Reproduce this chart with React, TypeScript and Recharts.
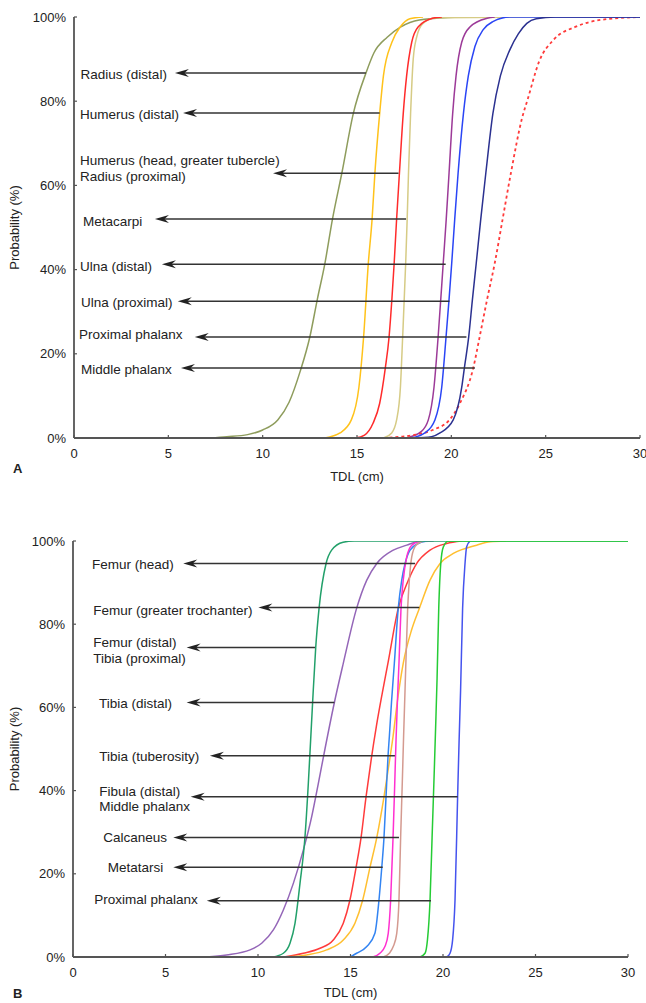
import React from 'react';
import { LineChart, Line, XAxis, YAxis, ReferenceLine, ReferenceDot } from 'recharts';

type Pt = [number, number];

const xTicks = [0, 5, 10, 15, 20, 25, 30];
const yTicks = [0, 20, 40, 60, 80, 100];

// ---------- Panel A (fore limb) curves: [TDL cm, probability %] ----------
const aRadiusDistal: Pt[] = [[7.2,0],[8.1,0.3],[9.2,0.8],[10.0,1.9],[10.8,4.3],[11.4,8.5],[12.0,16],[12.5,24],[12.9,33],[13.3,41.5],[13.7,52],[14.2,63],[14.8,77],[15.5,87],[15.9,91.5],[16.6,95.2],[17.3,97.6],[18.3,99.3],[20.5,100]];
const aHumerusDistal: Pt[] = [[13.3,0],[14.1,1.2],[14.7,4.3],[15.1,12],[15.35,24],[15.6,41.5],[15.8,52],[15.95,63],[16.2,77],[16.4,86],[16.85,94],[17.3,97.7],[17.8,99.6],[18.5,100]];
const aHumerusHead: Pt[] = [[14.9,0],[15.4,0.7],[15.85,3.5],[16.2,8.2],[16.5,16.6],[16.7,24],[16.85,33],[16.97,41.5],[17.1,52],[17.25,63],[17.45,77],[17.63,86],[17.9,94],[18.25,97.7],[19.0,99.7],[19.5,100]];
const aMetacarpi: Pt[] = [[16.4,0],[16.84,1.2],[17.1,4.3],[17.3,12],[17.42,24],[17.58,41.5],[17.66,52],[17.73,63],[17.84,77],[17.98,90],[18.16,95.2],[18.5,98.5],[19.2,99.8],[25.2,100]];
const aUlnaDistal: Pt[] = [[17.6,0],[18.4,1.5],[18.78,4.3],[19.08,12],[19.3,24],[19.57,41.5],[19.73,52],[19.88,63],[20.07,77],[20.25,86],[20.55,94],[21.0,97.7],[21.9,99.7],[22.3,100]];
const aUlnaProximal: Pt[] = [[17.9,0],[18.6,1.2],[19.13,4.3],[19.49,12],[19.72,24],[19.88,33],[20.02,41.5],[20.18,52],[20.36,63],[20.64,77],[20.9,86],[21.25,93],[21.69,97],[22.2,98.9],[23.1,100],[30,100]];
const aProximalPhalanx: Pt[] = [[18.0,0],[18.95,0.3],[19.4,1.2],[20.1,4.3],[20.55,12],[20.69,16.6],[20.92,24],[21.12,33],[21.32,41.5],[21.56,52],[21.83,63],[22.2,77],[22.6,86],[23.1,92.2],[23.55,96],[24.0,98.5],[24.5,99.6],[25.5,100],[30,100]];
const aMiddlePhalanx: Pt[] = [[16.4,0],[17.3,0.3],[18.0,0.7],[19.0,1.9],[19.9,4.3],[20.45,8.2],[21.16,16.6],[21.5,24],[21.9,33],[22.3,41.5],[22.72,52],[23.16,63],[23.75,76],[24.05,80.5],[24.66,89.5],[25.4,94.5],[26.6,97.7],[27.9,99.3],[30,100]];

// ---------- Panel B (hind limb) curves ----------
const bFemurDistal: Pt[] = [[10.8,0],[11.37,0.9],[11.73,3.3],[12.0,8.1],[12.27,17.7],[12.54,28.9],[12.72,41.7],[12.82,50],[12.95,61],[13.12,74.4],[13.3,83.8],[13.68,94.6],[13.98,97.8],[14.6,99.7],[15.2,100],[30,100]];
const bTibiaDistal: Pt[] = [[7.2,0],[8.3,0.5],[9.57,1.7],[10.2,3.3],[10.83,6.5],[11.37,11.3],[11.91,17.7],[12.45,25.7],[12.9,33.7],[13.26,41.7],[13.62,50],[14.12,61],[14.61,70.6],[15.33,83.8],[15.88,90.6],[16.42,94.6],[17.31,97.8],[18.04,99],[18.6,99.8],[19.5,100]];
const bFemurHead: Pt[] = [[11.4,0],[12.45,0.9],[13.35,2.1],[14.07,4.1],[14.61,8.1],[14.97,13.7],[15.3,21.5],[15.57,28.7],[15.84,38.5],[16.12,47.5],[16.4,55.5],[16.72,63.5],[17.04,71],[17.58,83.8],[18.13,90.6],[18.58,94.6],[19.3,97.8],[20.2,99.4],[21.0,100]];
const bFemurTrochanter: Pt[] = [[11.5,0],[12.63,0.5],[13.71,1.7],[14.61,4.1],[15.24,8.1],[15.66,13.7],[16.05,21.5],[16.42,28.7],[16.81,38.5],[17.12,47.5],[17.3,53],[17.52,61],[17.85,70.6],[18.3,78.6],[18.72,83.8],[19.3,90.6],[19.84,94.6],[20.56,97],[21.82,99],[22.54,99.8],[23.4,100]];
const bMetatarsi: Pt[] = [[15.0,0],[15.33,0.9],[15.88,2.5],[16.32,5.7],[16.54,13.7],[16.69,21.5],[16.81,28.7],[16.92,38.5],[17.03,48.4],[17.1,53],[17.22,61.5],[17.37,70.6],[17.58,83.8],[17.77,90.6],[17.95,94.6],[18.22,97.8],[18.66,99.4],[19.1,100]];
const bTibiaTuberosity: Pt[] = [[16.2,0],[16.59,0.9],[16.86,2.5],[17.04,5.7],[17.17,13.7],[17.3,28.7],[17.38,40],[17.46,52],[17.54,62],[17.62,70.6],[17.73,83.8],[17.85,90.6],[18.04,96.2],[18.31,99],[18.76,100]];
const bCalcaneus: Pt[] = [[16.77,0],[17.1,0.9],[17.31,2.5],[17.5,5.7],[17.62,13.7],[17.71,28.7],[17.8,42],[17.87,53],[17.94,63],[18.09,83.8],[18.18,90.6],[18.31,96.2],[18.54,99],[18.94,100]];
const bProximalPhalanx: Pt[] = [[18.76,0],[19.03,0.9],[19.16,4.1],[19.3,13.7],[19.41,28.7],[19.53,45],[19.6,55],[19.68,67],[19.77,83.8],[19.88,94.6],[20.02,98.6],[20.3,100],[30,100]];
const bMiddlePhalanx: Pt[] = [[20.2,0],[20.38,0.9],[20.52,4.1],[20.65,13.7],[20.79,38.5],[20.87,52],[20.95,64],[21.06,83.8],[21.19,94.6],[21.28,98.6],[21.46,100]];

// ---------- Annotations (data units) ----------
const aLabels = ['Radius (distal)', 'Humerus (distal)', 'Humerus (head, greater tubercle)\nRadius (proximal)', 'Metacarpi', 'Ulna (distal)', 'Ulna (proximal)', 'Proximal phalanx', 'Middle phalanx'];
const aLabelX = [0.35, 0.32, 0.32, 0.48, 0.32, 0.37, 0.26, 0.37];
const aLabelY = [86.5, 77.0, 66.0, 51.5, 40.9, 32.2, 24.7, 16.4];
const aArrowY = [86.7, 77.2, 62.9, 52.0, 41.3, 32.5, 24.0, 16.6];
const aArrowTip = [5.35, 5.78, 10.55, 4.29, 4.66, 5.5, 6.4, 5.67];
const aArrowEnd = [15.47, 16.2, 17.2, 17.6, 19.7, 19.9, 20.8, 21.25];

const bLabels = ['Femur (head)', 'Femur (greater trochanter)', 'Femur (distal)\nTibia (proximal)', 'Tibia (distal)', 'Tibia (tuberosity)', 'Fibula (distal)\nMiddle phalanx', 'Calcaneus', 'Metatarsi', 'Proximal phalanx'];
const bLabelX = [1.03, 1.1, 1.1, 1.4, 1.42, 1.42, 1.64, 1.88, 1.15];
const bLabelY = [94.4, 83.4, 75.6, 61.1, 48.3, 39.9, 28.7, 21.5, 13.9];
const bArrowY = [94.6, 84.0, 74.4, 61.2, 48.4, 38.5, 28.7, 21.6, 13.5];
const bArrowTip = [5.96, 10.02, 6.14, 6.14, 7.4, 6.36, 5.42, 5.42, 7.23];
const bArrowEnd = [18.49, 18.72, 13.08, 14.13, 17.4, 20.79, 17.62, 16.74, 19.35];

const toRows = (pts: Pt[]) => pts.map(([x, y]) => ({ x, y }));

interface SeriesDef { name: string; pts: Pt[]; color: string; dash?: string; width?: number }

const seriesA: SeriesDef[] = [
  { name: 'Radius (distal)', pts: aRadiusDistal, color: '#8E9C5C' },
  { name: 'Humerus (distal)', pts: aHumerusDistal, color: '#FFC21A' },
  { name: 'Metacarpi', pts: aMetacarpi, color: '#D6CB85' },
  { name: 'Humerus (head)', pts: aHumerusHead, color: '#FF2B2B' },
  { name: 'Ulna (distal)', pts: aUlnaDistal, color: '#9C3A98' },
  { name: 'Middle phalanx', pts: aMiddlePhalanx, color: '#FF3A3A', dash: '3 3', width: 1.8 },
  { name: 'Ulna (proximal)', pts: aUlnaProximal, color: '#2A45F5' },
  { name: 'Proximal phalanx', pts: aProximalPhalanx, color: '#2B3190' },
];

const seriesB: SeriesDef[] = [
  { name: 'Tibia (distal)', pts: bTibiaDistal, color: '#9466B8' },
  { name: 'Femur (head)', pts: bFemurHead, color: '#FF3B3B' },
  { name: 'Femur (greater trochanter)', pts: bFemurTrochanter, color: '#FFBF30' },
  { name: 'Metatarsi', pts: bMetatarsi, color: '#3384F2' },
  { name: 'Tibia (tuberosity)', pts: bTibiaTuberosity, color: '#FF30D0' },
  { name: 'Calcaneus', pts: bCalcaneus, color: '#D49A90' },
  { name: 'Fibula (distal)', pts: bMiddlePhalanx, color: '#4553EE' },
  { name: 'Femur (distal)', pts: bFemurDistal, color: '#22A06A' },
  { name: 'Proximal phalanx', pts: bProximalPhalanx, color: '#25CC35' },
];

const FONT = '"Liberation Sans", Arial, Helvetica, sans-serif';
const TEXT = '#222';
const AXIS = '#555';

const arrowShape = (p: any) => {
  const { x1, y1, x2 } = p;
  const tip = Math.min(x1, x2);
  const end = Math.max(x1, x2);
  const y = y1;
  return (
    <g>
      <line x1={tip + 8} y1={y} x2={end} y2={y} stroke="#333" strokeWidth={1.5} />
      <path d={`M${tip},${y} L${tip + 14},${y - 4} L${tip + 9.5},${y} L${tip + 14},${y + 4} Z`} fill="#222" />
    </g>
  );
};

const makeLabelShape = (text: string, lineGap: number) => (p: any) => {
  const lines = text.split('\n');
  return (
    <text x={p.cx} y={p.cy} fontSize={13.5} fill={TEXT} fontFamily={FONT}>
      {lines.map((l, i) => (
        <tspan key={i} x={p.cx} dy={i === 0 ? '0.36em' : lineGap}>{l}</tspan>
      ))}
    </text>
  );
};

interface PanelProps {
  series: SeriesDef[];
  labels: string[]; labelX: number[]; labelY: number[];
  arrowY: number[]; arrowTip: number[]; arrowEnd: number[];
  height: number; margin: { top: number; right: number; bottom: number; left: number };
  yWidth: number; xLabelOffset: number; lineGap: number;
}

const Panel = (pr: PanelProps) => (
  <LineChart width={646} height={pr.height} margin={pr.margin}>
    <XAxis
      type="number" dataKey="x" domain={[0, 30]} ticks={xTicks} interval={0} allowDataOverflow
      height={30} tickSize={-3} tickMargin={13.5}
      axisLine={{ stroke: AXIS, strokeWidth: 1.8 }} tickLine={{ stroke: AXIS, strokeWidth: 1.2 }}
      tick={{ fontSize: 13, fill: TEXT, fontFamily: FONT }}
      label={{ value: 'TDL (cm)', position: 'bottom', offset: pr.xLabelOffset, fontSize: 13, fill: TEXT, fontFamily: FONT }}
    />
    <YAxis
      type="number" domain={[0, 100]} ticks={yTicks} interval={0} allowDataOverflow width={pr.yWidth}
      tickSize={-3} tickMargin={11}
      tickFormatter={(v: number) => `${v}%`}
      axisLine={{ stroke: AXIS, strokeWidth: 1.8 }} tickLine={{ stroke: AXIS, strokeWidth: 1.2 }}
      tick={{ fontSize: 13, fill: TEXT, fontFamily: FONT }}
      label={{ value: 'Probability (%)', angle: -90, position: 'insideLeft', offset: 14, fontSize: 13, fill: TEXT, fontFamily: FONT, style: { textAnchor: 'middle' } }}
    />
    {pr.series.map((s) => (
      <Line
        key={s.name} name={s.name} data={toRows(s.pts)} dataKey="y" type="monotone"
        stroke={s.color} strokeWidth={s.width ?? 1.5} strokeDasharray={s.dash}
        dot={false} activeDot={false} isAnimationActive={false}
      />
    ))}
    {pr.labels.map((l, i) => (
      <ReferenceLine
        key={`arrow-${i}`}
        segment={[{ x: pr.arrowTip[i], y: pr.arrowY[i] }, { x: pr.arrowEnd[i], y: pr.arrowY[i] }]}
        shape={arrowShape}
        ifOverflow="visible"
      />
    ))}
    {pr.labels.map((l, i) => (
      <ReferenceDot
        key={`label-${i}`} x={pr.labelX[i]} y={pr.labelY[i]} r={1}
        shape={makeLabelShape(l, pr.lineGap)} ifOverflow="visible"
      />
    ))}
  </LineChart>
);

export default function App() {
  return (
    <div style={{ position: 'absolute', left: 0, top: 0, width: 646, height: 1003, background: '#fff', fontFamily: FONT }}>
      <div style={{ position: 'absolute', left: 0, top: 0 }}>
        <Panel
          series={seriesA} labels={aLabels} labelX={aLabelX} labelY={aLabelY}
          arrowY={aArrowY} arrowTip={aArrowTip} arrowEnd={aArrowEnd}
          height={490} margin={{ top: 17, right: 6, bottom: 22, left: 0 }} yWidth={74}
          xLabelOffset={3.8} lineGap={16}
        />
      </div>
      <div style={{ position: 'absolute', left: 0, top: 490 }}>
        <Panel
          series={seriesB} labels={bLabels} labelX={bLabelX} labelY={bLabelY}
          arrowY={bArrowY} arrowTip={bArrowTip} arrowEnd={bArrowEnd}
          height={513} margin={{ top: 51, right: 18, bottom: 16, left: 0 }} yWidth={73}
          xLabelOffset={1} lineGap={15.5}
        />
      </div>
      <svg width={646} height={1003} style={{ position: 'absolute', left: 0, top: 0, pointerEvents: 'none' }}>
        <text x={13} y={473} fontSize={13} fontWeight="bold" fill={TEXT} fontFamily={FONT}>A</text>
        <text x={13} y={998} fontSize={13} fontWeight="bold" fill={TEXT} fontFamily={FONT}>B</text>
      </svg>
    </div>
  );
}
